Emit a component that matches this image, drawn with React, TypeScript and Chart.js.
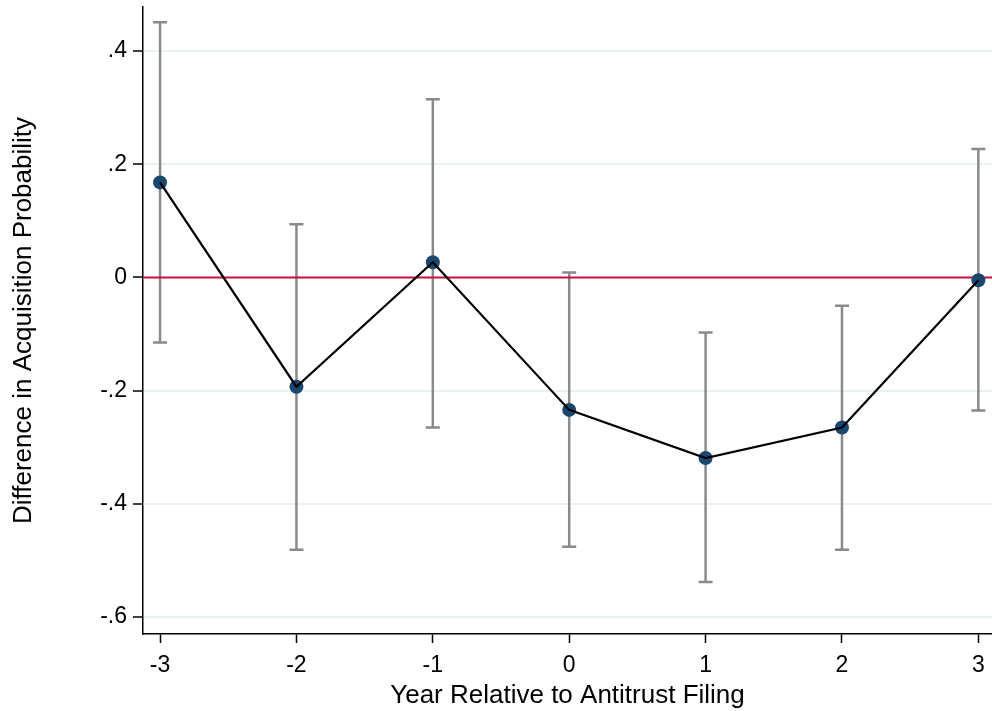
import React, { useEffect, useRef } from "react";
import { Chart, registerables } from "chart.js";

Chart.register(...registerables);

const years = [-3, -2, -1, 0, 1, 2, 3];
const estimates = [0.168, -0.193, 0.027, -0.234, -0.319, -0.265, -0.005];
const ciUpper = [0.451, 0.094, 0.315, 0.009, -0.097, -0.05, 0.227];
const ciLower = [-0.115, -0.481, -0.265, -0.476, -0.538, -0.481, -0.235];
const xTicks = [-3, -2, -1, 0, 1, 2, 3];
const yTicks = [-0.6, -0.4, -0.2, 0, 0.2, 0.4];

const FONT = "'Liberation Sans', Arial, sans-serif";

function fmtY(v: number): string {
  if (Math.abs(v) < 1e-9) return "0";
  const s = Math.abs(v).toFixed(1).replace(/^0/, "");
  return (v < 0 ? "-" : "") + s;
}

const errorBarPlugin = {
  id: "errorBars",
  beforeDatasetsDraw(chart: any) {
    const { ctx, scales, chartArea } = chart;
    const xs = scales.x;
    const ys = scales.y;
    ctx.save();
    ctx.strokeStyle = "#8a8a8a";
    ctx.lineWidth = 2.5;
    const cap = 7;
    years.forEach((yr, i) => {
      const px = xs.getPixelForValue(yr);
      const top = ys.getPixelForValue(ciUpper[i]);
      const bot = ys.getPixelForValue(ciLower[i]);
      ctx.beginPath();
      ctx.moveTo(px, top);
      ctx.lineTo(px, bot);
      ctx.moveTo(px - cap, top);
      ctx.lineTo(px + cap, top);
      ctx.moveTo(px - cap, bot);
      ctx.lineTo(px + cap, bot);
      ctx.stroke();
    });
    const y0 = ys.getPixelForValue(0);
    ctx.strokeStyle = "#c8103c";
    ctx.lineWidth = 2.2;
    ctx.beginPath();
    ctx.moveTo(chartArea.left, y0);
    ctx.lineTo(chartArea.right, y0);
    ctx.stroke();
    ctx.restore();
  },
};

export default function App() {
  const ref = useRef<HTMLCanvasElement | null>(null);
  useEffect(() => {
    if (!ref.current) return;
    const pts = years.map((x, i) => ({ x, y: estimates[i] }));
    const chart = new Chart(ref.current, {
      type: "line",
      data: {
        datasets: [
          {
            data: pts,
            borderColor: "#000000",
            borderWidth: 2.2,
            pointRadius: 0,
            fill: false,
            tension: 0,
            order: 1,
          },
          {
            data: pts,
            showLine: false,
            pointRadius: 7,
            pointHoverRadius: 7,
            pointBackgroundColor: "#1a476f",
            pointBorderWidth: 0,
            order: 2,
          },
        ],
      },
      options: {
        animation: false,
        responsive: true,
        maintainAspectRatio: false,
        layout: { padding: { top: 6, right: 0, left: 0, bottom: 0 } },
        plugins: { legend: { display: false }, tooltip: { enabled: false } },
        scales: {
          x: {
            type: "linear",
            min: -3.125,
            max: 3.1,
            afterBuildTicks: (s: any) => {
              s.ticks = xTicks.map((v) => ({ value: v }));
            },
            afterFit: (s: any) => {
              s.height = 77;
              s.paddingLeft = 0;
              s.paddingRight = 0;
            },
            ticks: {
              includeBounds: false,
              color: "#000",
              font: { family: FONT, size: 23 },
              padding: 9,
              maxRotation: 0,
              callback: (v: any) => String(v),
            },
            grid: {
              display: true,
              drawOnChartArea: false,
              drawTicks: true,
              tickLength: 9,
              tickColor: "#000",
              tickWidth: 1.5,
            },
            border: { display: true, color: "#000", width: 1.5 },
            title: {
              display: true,
              text: "Year Relative to Antitrust Filing",
              color: "#000",
              font: { family: FONT, size: 26 },
              padding: { top: 0, bottom: 0 },
            },
          },
          y: {
            type: "linear",
            min: -0.63,
            max: 0.478,
            afterBuildTicks: (s: any) => {
              s.ticks = yTicks.map((v) => ({ value: v }));
            },
            afterFit: (s: any) => {
              s.width = 143;
              s.paddingTop = 0;
              s.paddingBottom = 0;
            },
            ticks: {
              color: "#000",
              font: { family: FONT, size: 23 },
              padding: 6,
              callback: (v: any) => fmtY(Number(v)),
            },
            grid: {
              display: true,
              drawOnChartArea: true,
              drawTicks: true,
              tickLength: 10,
              color: (c: any) =>
                c.tick && Math.abs(c.tick.value) < 1e-9 ? "rgba(0,0,0,0)" : "#eaf1f3",
              lineWidth: 2,
              tickColor: "#000",
              tickWidth: 1.5,
            },
            border: { display: true, color: "#000", width: 1.5 },
            title: {
              display: true,
              text: "Difference in Acquisition Probability",
              color: "#000",
              font: { family: FONT, size: 26 },
              padding: { top: 8, bottom: 0 },
            },
          },
        },
      },
      plugins: [errorBarPlugin],
    });
    return () => chart.destroy();
  }, []);
  return (
    <div style={{ position: "fixed", left: 0, top: 0, width: 992, height: 711, overflow: "hidden", background: "#fff" }}>
      <div style={{ position: "absolute", left: 0, top: 0, width: 999, height: 711 }}>
        <canvas ref={ref} />
      </div>
    </div>
  );
}
